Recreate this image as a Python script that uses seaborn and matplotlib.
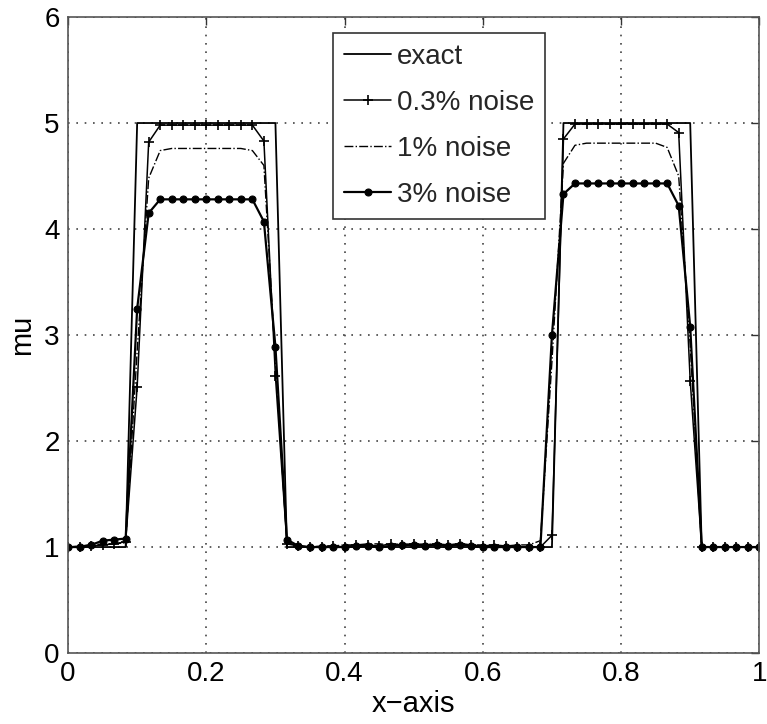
import numpy as np
import pandas as pd
import matplotlib
matplotlib.use("Agg")
import matplotlib.pyplot as plt
import seaborn as sns

# grid of 61 nodes on [0, 1]
x = np.linspace(0.0, 1.0, 61)

exact = ([1.0] * 6 + [5.0] * 13 + [1.0] * 24 + [5.0] * 12 + [1.0] * 6)

noise_03 = ([1.0, 1.0, 1.01, 1.02, 1.03, 1.05,
             2.51, 4.82] + [4.98] * 9 + [4.83, 2.61,
             1.03, 1.01, 1.0, 1.0, 1.01, 1.0, 1.02, 1.02, 1.01, 1.03, 1.02, 1.03,
             1.02, 1.03, 1.02, 1.03, 1.02, 1.01, 1.02, 1.01, 1.0, 1.0, 1.0,
             1.11, 4.85] + [4.99] * 9 + [4.91, 2.57] + [1.0] * 6)

noise_1 = ([1.0, 1.01, 1.02, 1.03, 1.03, 1.04,
            2.85, 4.48, 4.74] + [4.76] * 7 + [4.74, 4.6, 2.75,
            1.04, 1.01, 1.0, 1.01, 1.01, 1.02, 1.02, 1.03, 1.03, 1.02, 1.03, 1.02,
            1.03, 1.02, 1.02, 1.03, 1.02, 1.02, 1.01, 1.01, 1.02, 1.02, 1.06,
            2.75, 4.62, 4.79] + [4.81] * 7 + [4.77, 4.5, 2.9] + [1.0] * 6)

noise_3 = ([1.0, 1.0, 1.02, 1.06, 1.07, 1.08,
            3.25, 4.15] + [4.28] * 9 + [4.07, 2.89,
            1.07, 1.01, 1.0, 1.0, 1.0, 1.0, 1.01, 1.01, 1.0, 1.01, 1.02, 1.02,
            1.01, 1.02, 1.01, 1.02, 1.01, 1.0, 1.0, 1.0, 1.0, 1.0, 1.0,
            3.0, 4.33] + [4.43] * 9 + [4.22, 3.08] + [1.0] * 6)

labels = ["exact", "0.3% noise", "1% noise", "3% noise"]
series = [exact, noise_03, noise_1, noise_3]

sns.set_theme(style="white")
plt.rcParams["font.family"] = ["Liberation Sans", "DejaVu Sans"]

fig = plt.figure(figsize=(7.67, 7.24), dpi=100)
ax = fig.add_axes([0.0887, 0.098, 0.9013, 0.8785])

styles = [
    dict(linestyle="-", linewidth=1.3, marker=None),
    dict(linestyle="-", linewidth=1.1, marker="+", markersize=7,
         markeredgewidth=1.2, markeredgecolor="black"),
    dict(linestyle="-.", linewidth=1.0, marker=None),
    dict(linestyle="-", linewidth=1.6, marker="o", markersize=5,
         markeredgewidth=0.8, markeredgecolor="black", markerfacecolor="black"),
]

for lab, vals, st in zip(labels, series, styles):
    df = pd.DataFrame({"x": x, "mu": vals})
    sns.lineplot(data=df, x="x", y="mu", ax=ax, color="black", label=lab,
                 sort=False, estimator=None, **st)

ax.set_xlim(0, 1)
ax.set_ylim(0, 6)
ax.set_xticks([0, 0.2, 0.4, 0.6, 0.8, 1])
ax.set_xticklabels(["0", "0.2", "0.4", "0.6", "0.8", "1"])
ax.set_yticks([0, 1, 2, 3, 4, 5, 6])
ax.tick_params(axis="both", direction="in", length=6, width=1, labelsize=20,
               top=True, right=True, colors="#333333", labelcolor="black", pad=6)
ax.grid(True, linestyle=(0, (1, 4)), linewidth=1.2, color="#444444")
for sp in ax.spines.values():
    sp.set_color("#555555")
    sp.set_linewidth(1.2)

ax.set_xlabel("x\u2212axis", fontsize=21, labelpad=2, color="black")
ax.set_ylabel("mu", fontsize=21, labelpad=6, color="black")

leg = ax.legend(loc="upper left", bbox_to_anchor=(0.383, 0.975), fontsize=20,
                frameon=True, fancybox=False, framealpha=1, edgecolor="#333333",
                handlelength=1.7, handletextpad=0.2, borderpad=0.4, labelspacing=0.72,
                borderaxespad=0, numpoints=1)
leg.get_frame().set_linewidth(1.2)

fig.savefig("out.png", dpi=100)
